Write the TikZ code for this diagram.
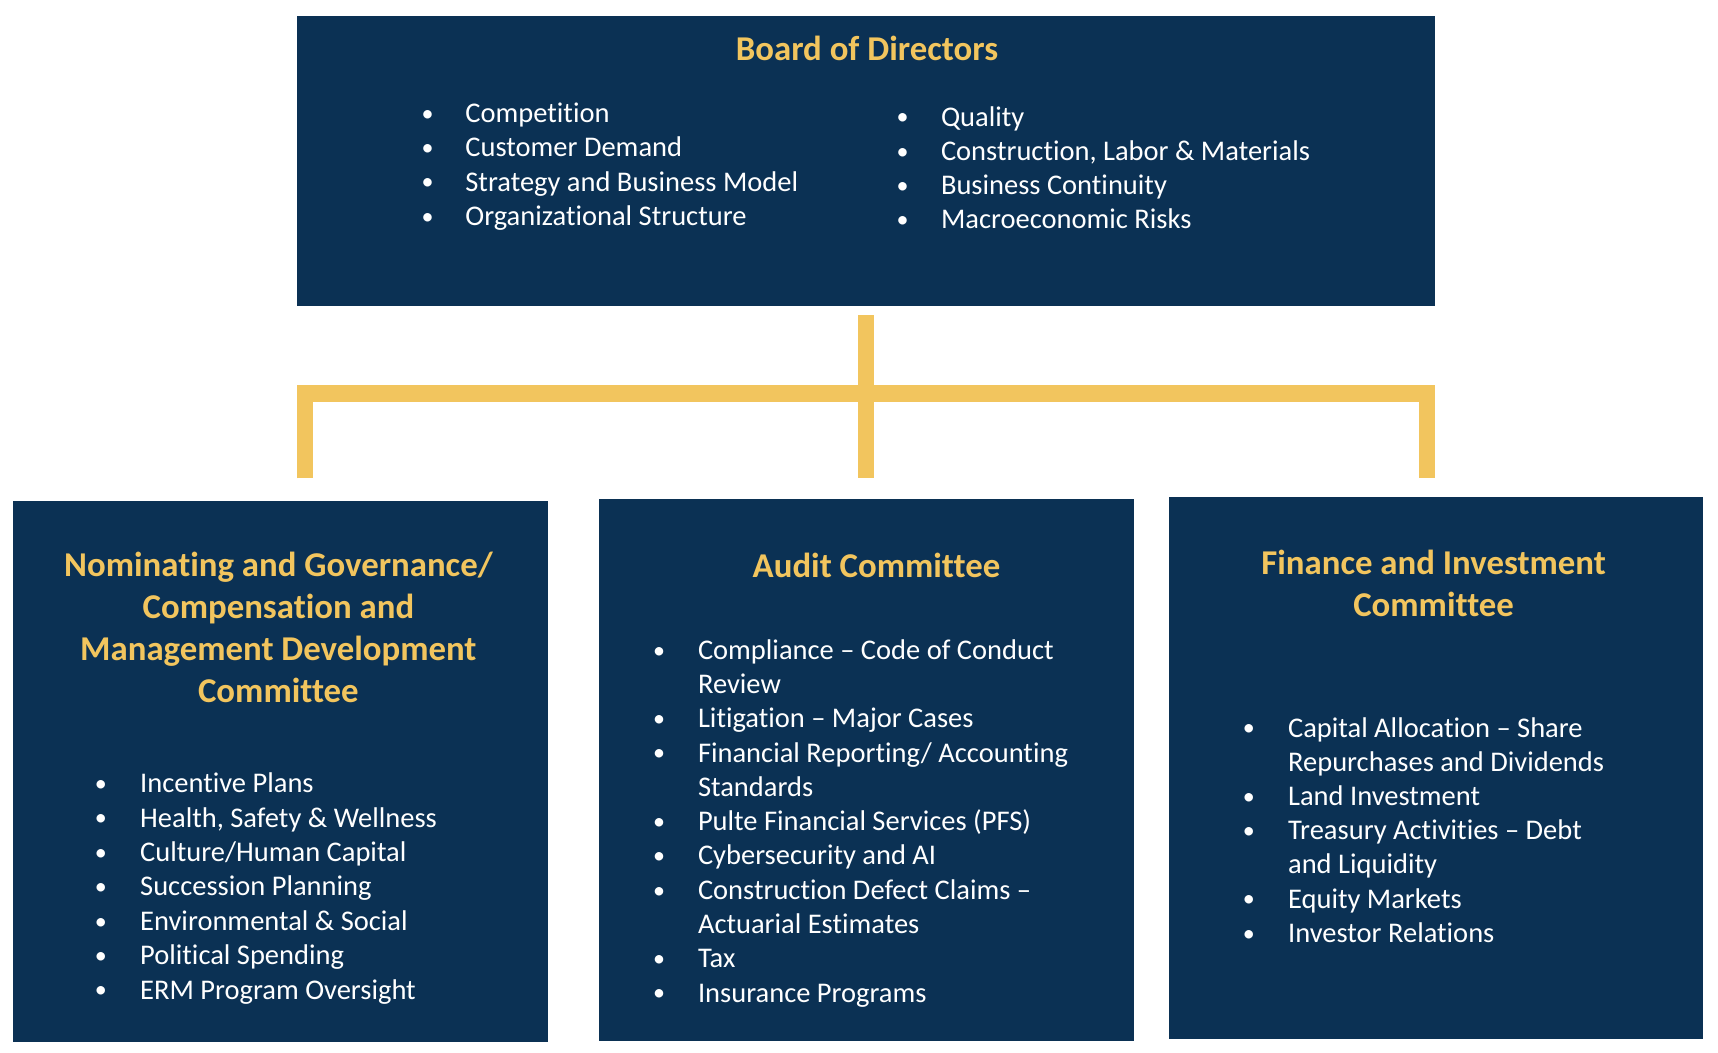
\documentclass[tikz,border=0pt]{standalone}
\usepackage{fontspec}
\setmainfont{Carlito}[Ligatures=NoCommon]
\usetikzlibrary{calc}
\definecolor{navy}{RGB}{11,49,84}
\definecolor{gold}{RGB}{242,197,94}
\begin{document}
\begin{tikzpicture}[x=0.5pt,y=-0.5pt,
  box/.style={fill=navy, draw=none, inner sep=0pt, anchor=center},
  ttl/.style={text=gold, font=\fontsize{17.4pt}{21pt}\selectfont\bfseries, anchor=base, inner sep=0pt},
  itm/.style={text=white, font=\fontsize{14.25pt}{17pt}\selectfont, anchor=base west, inner sep=0pt},
  dot/.style={text=white, font=\fontsize{12pt}{14pt}\selectfont, anchor=base, inner sep=0pt, yshift=0.6pt},
  conn/.style={draw=gold, line width=8.3pt, miter limit=10, line join=miter, line cap=butt}]
\useasboundingbox[fill=white] (0,0) rectangle (1718,1053);

% boxes
\node[box, minimum width=569pt, minimum height=145pt] (board) at (866,161) {};
\node[box, minimum width=267.5pt, minimum height=270.5pt] (nom) at (280.5,771.5) {};
\node[box, minimum width=267.5pt, minimum height=271pt] (aud) at (866.5,770) {};
\node[box, minimum width=267pt, minimum height=271pt] (fin) at (1436,768) {};

% connectors
\coordinate (stemtop) at ($(board.south)+(0,9)$);
\coordinate (busy) at ($(board.south)+(0,87)$);
\coordinate (endy) at ($(board.south)+(0,172)$);
\coordinate (lx) at ($(board.south west)+(8.25,0)$);
\coordinate (rx) at ($(board.south east)+(-8.25,0)$);
\draw[conn] (stemtop) -- (stemtop |- endy);
\draw[conn] (lx |- endy) -- (lx |- busy) -- (rx |- busy) -- (rx |- endy);

% board text
\node[ttl] (bt) at (867,61) {Board of Directors};
\node[dot] (bd1) at (427.5,122.7) {•};
\node[itm] (bi1) at (465,122.7) {Competition};
\node[dot] (bd2) at (427.5,156.9) {•};
\node[itm] (bi2) at (465,156.9) {Customer Demand};
\node[dot] (bd3) at (427.5,191.1) {•};
\node[itm] (bi3) at (465,191.1) {Strategy and Business Model};
\node[dot] (bd4) at (427.5,225.3) {•};
\node[itm] (bi4) at (465,225.3) {Organizational Structure};
\node[dot] (bd5) at (902.5,126.2) {•};
\node[itm] (bi5) at (940.6,126.2) {Quality};
\node[dot] (bd6) at (902.5,160.4) {•};
\node[itm] (bi6) at (940.6,160.4) {Construction, Labor \& Materials};
\node[dot] (bd7) at (902.5,194.6) {•};
\node[itm] (bi7) at (940.6,194.6) {Business Continuity};
\node[dot] (bd8) at (902.5,228.8) {•};
\node[itm] (bi8) at (940.6,228.8) {Macroeconomic Risks};

% nominating text
\node[ttl] (nt1) at (278.4,576.6) {Nominating and Governance/};
\node[ttl] (nt2) at (278.4,618.4) {Compensation and};
\node[ttl] (nt3) at (278.4,660.2) {Management Development};
\node[ttl] (nt4) at (278.4,702.0) {Committee};
\node[dot] (nd1) at (100.8,792.6) {•};
\node[itm] (ni1) at (139.8,792.6) {Incentive Plans};
\node[dot] (nd2) at (100.8,827.0) {•};
\node[itm] (ni2) at (139.8,827.0) {Health, Safety \& Wellness};
\node[dot] (nd3) at (100.8,861.4) {•};
\node[itm] (ni3) at (139.8,861.4) {Culture/Human Capital};
\node[dot] (nd4) at (100.8,895.8) {•};
\node[itm] (ni4) at (139.8,895.8) {Succession Planning};
\node[dot] (nd5) at (100.8,930.2) {•};
\node[itm] (ni5) at (139.8,930.2) {Environmental \& Social};
\node[dot] (nd6) at (100.8,964.6) {•};
\node[itm] (ni6) at (139.8,964.6) {Political Spending};
\node[dot] (nd7) at (100.8,999.0) {•};
\node[itm] (ni7) at (139.8,999.0) {ERM Program Oversight};

% audit text
\node[ttl] (at1) at (876.5,577.5) {Audit Committee};
\node[dot] (ad1) at (659.2,659.2) {•};
\node[itm] (ai1) at (697.6,659.2) {Compliance – Code of Conduct};
\node[itm] (ai1b) at (697.6,693.5) {Review};
\node[dot] (ad2) at (659.2,727.8) {•};
\node[itm] (ai2) at (697.6,727.8) {Litigation – Major Cases};
\node[dot] (ad3) at (659.2,762.0) {•};
\node[itm] (ai3) at (697.6,762.0) {Financial Reporting/ Accounting};
\node[itm] (ai3b) at (697.6,796.3) {Standards};
\node[dot] (ad4) at (659.2,830.6) {•};
\node[itm] (ai4) at (697.6,830.6) {Pulte Financial Services (PFS)};
\node[dot] (ad5) at (659.2,864.9) {•};
\node[itm] (ai5) at (697.6,864.9) {Cybersecurity and AI};
\node[dot] (ad6) at (659.2,899.2) {•};
\node[itm] (ai6) at (697.6,899.2) {Construction Defect Claims –};
\node[itm] (ai6b) at (697.6,933.4) {Actuarial Estimates};
\node[dot] (ad7) at (659.2,967.7) {•};
\node[itm] (ai7) at (697.6,967.7) {Tax};
\node[dot] (ad8) at (659.2,1002.0) {•};
\node[itm] (ai8) at (697.6,1002.0) {Insurance Programs};

% finance text
\node[ttl] (ft1) at (1433.6,574.5) {Finance and Investment};
\node[ttl] (ft2) at (1433.6,616.0) {Committee};
\node[dot] (fd1) at (1248.9,737.0) {•};
\node[itm] (fi1) at (1287.7,737.0) {Capital Allocation – Share};
\node[itm] (fi1b) at (1287.7,771.2) {Repurchases and Dividends};
\node[dot] (fd2) at (1248.9,805.4) {•};
\node[itm] (fi2) at (1287.7,805.4) {Land Investment};
\node[dot] (fd3) at (1248.9,839.6) {•};
\node[itm] (fi3) at (1287.7,839.6) {Treasury Activities – Debt};
\node[itm] (fi3b) at (1287.7,873.8) {and Liquidity};
\node[dot] (fd4) at (1248.9,908.0) {•};
\node[itm] (fi4) at (1287.7,908.0) {Equity Markets};
\node[dot] (fd5) at (1248.9,942.2) {•};
\node[itm] (fi5) at (1287.7,942.2) {Investor Relations};
\end{tikzpicture}
\end{document}
